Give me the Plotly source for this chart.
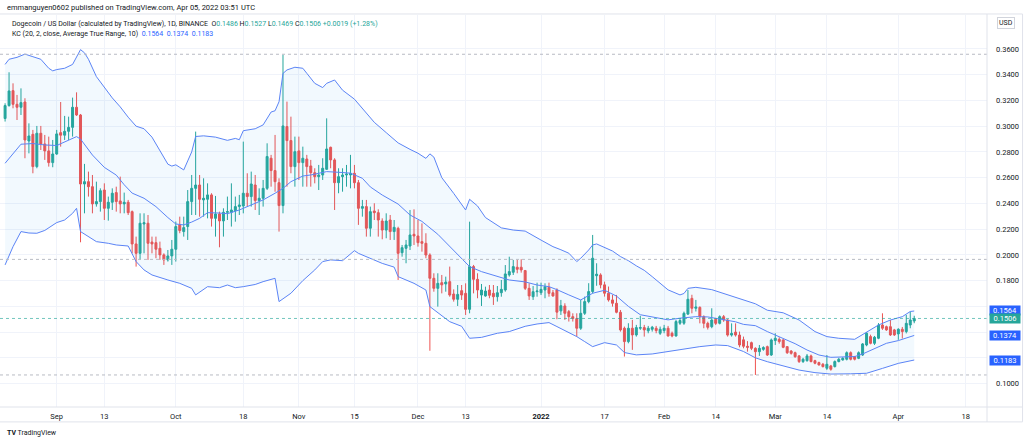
import pandas as pd
import plotly.graph_objects as go

# ---------------- data ----------------
dates = pd.date_range("2021-08-19", periods=230, freq="D")

opens = [
    0.3060, 0.3160, 0.3276, 0.3170, 0.3147, 0.3188, 0.2885, 0.2937, 0.2686, 0.2945,
    0.2862, 0.2808, 0.2717, 0.2784, 0.2950, 0.2930, 0.2960, 0.2991, 0.3147, 0.3087,
    0.2551, 0.2569, 0.2530, 0.2396, 0.2414, 0.2504, 0.2362, 0.2409, 0.2484, 0.2419,
    0.2396, 0.2409, 0.2336, 0.2085, 0.2012, 0.2240, 0.2246, 0.2100, 0.2095, 0.2051,
    0.2000, 0.1961, 0.1992, 0.2044, 0.2233, 0.2181, 0.2220, 0.2414, 0.2517, 0.2543,
    0.2427, 0.2432, 0.2466, 0.2284, 0.2318, 0.2264, 0.2331, 0.2331, 0.2344, 0.2375,
    0.2380, 0.2479, 0.2453, 0.2543, 0.2422, 0.2440, 0.2517, 0.2751, 0.2655, 0.2561,
    0.2383, 0.2997, 0.2888, 0.2686, 0.2808, 0.2717, 0.2745, 0.2691, 0.2639, 0.2608,
    0.2621, 0.2665, 0.2836, 0.2738, 0.2561, 0.2608, 0.2621, 0.2621, 0.2634, 0.2561,
    0.2362, 0.2375, 0.2207, 0.2341, 0.2328, 0.2263, 0.2193, 0.2271, 0.2181, 0.2206,
    0.2017, 0.2051, 0.2069, 0.2160, 0.2147, 0.2103, 0.2090, 0.1999, 0.1818, 0.1740,
    0.1784, 0.1774, 0.1792, 0.1696, 0.1655, 0.1722, 0.1701, 0.1577, 0.1909, 0.1810,
    0.1688, 0.1681, 0.1727, 0.1701, 0.1675, 0.1706, 0.1727, 0.1844, 0.1865, 0.1904,
    0.1904, 0.1878, 0.1740, 0.1675, 0.1714, 0.1706, 0.1727, 0.1748, 0.1706, 0.1727,
    0.1565, 0.1603, 0.1559, 0.1520, 0.1505, 0.1430, 0.1546, 0.1637, 0.1715, 0.1838,
    0.1844, 0.1767, 0.1702, 0.1650, 0.1624, 0.1554, 0.1430, 0.1326, 0.1430, 0.1378,
    0.1430, 0.1435, 0.1410, 0.1422, 0.1430, 0.1391, 0.1412, 0.1430, 0.1391, 0.1370,
    0.1469, 0.1469, 0.1540, 0.1662, 0.1585, 0.1592, 0.1520, 0.1468, 0.1442, 0.1499,
    0.1468, 0.1520, 0.1494, 0.1377, 0.1400, 0.1377, 0.1340, 0.1290, 0.1318, 0.1274,
    0.1248, 0.1266, 0.1287, 0.1222, 0.1334, 0.1344, 0.1339, 0.1287, 0.1253, 0.1240,
    0.1215, 0.1171, 0.1178, 0.1215, 0.1178, 0.1163, 0.1150, 0.1119, 0.1137, 0.1132,
    0.1171, 0.1184, 0.1189, 0.1240, 0.1209, 0.1196, 0.1222, 0.1300, 0.1365, 0.1313,
    0.1352, 0.1455, 0.1442, 0.1442, 0.1417, 0.1386, 0.1422, 0.1404, 0.1455, 0.1486,
]
highs = [
    0.3178, 0.3419, 0.3333, 0.3243, 0.3294, 0.3217, 0.3022, 0.2971, 0.3002, 0.3002,
    0.2932, 0.2919, 0.2893, 0.2971, 0.3188, 0.3080, 0.3074, 0.3222, 0.3263, 0.3095,
    0.2707, 0.2647, 0.2621, 0.2569, 0.2517, 0.2556, 0.2453, 0.2517, 0.2530, 0.2608,
    0.2484, 0.2427, 0.2345, 0.2142, 0.2323, 0.2323, 0.2310, 0.2142, 0.2142, 0.2103,
    0.2012, 0.2038, 0.2116, 0.2259, 0.2297, 0.2297, 0.2504, 0.2621, 0.2958, 0.2621,
    0.2595, 0.2556, 0.2479, 0.2458, 0.2336, 0.2362, 0.2453, 0.2556, 0.2453, 0.2466,
    0.2880, 0.2634, 0.2647, 0.2621, 0.2517, 0.2582, 0.2867, 0.2777, 0.2932, 0.2595,
    0.3555, 0.3191, 0.3074, 0.2919, 0.2919, 0.2841, 0.2777, 0.2738, 0.2673, 0.2699,
    0.2751, 0.3061, 0.2841, 0.2751, 0.2673, 0.2673, 0.2699, 0.2777, 0.2699, 0.2582,
    0.2427, 0.2427, 0.2375, 0.2401, 0.2354, 0.2284, 0.2323, 0.2310, 0.2271, 0.2219,
    0.2077, 0.2116, 0.2349, 0.2354, 0.2271, 0.2245, 0.2168, 0.2012, 0.1857, 0.1857,
    0.1844, 0.1831, 0.1909, 0.1732, 0.1766, 0.1766, 0.1779, 0.2258, 0.1922, 0.1857,
    0.1774, 0.1753, 0.1766, 0.1766, 0.1758, 0.1805, 0.1921, 0.1986, 0.1961, 0.1961,
    0.1966, 0.1883, 0.1779, 0.1758, 0.1784, 0.1784, 0.1779, 0.1784, 0.1727, 0.1740,
    0.1650, 0.1624, 0.1572, 0.1546, 0.1546, 0.1650, 0.1676, 0.1780, 0.2155, 0.1935,
    0.1857, 0.1792, 0.1754, 0.1689, 0.1689, 0.1572, 0.1443, 0.1469, 0.1495, 0.1456,
    0.1526, 0.1456, 0.1448, 0.1448, 0.1448, 0.1443, 0.1456, 0.1448, 0.1404, 0.1495,
    0.1508, 0.1559, 0.1727, 0.1690, 0.1650, 0.1600, 0.1530, 0.1481, 0.1585, 0.1510,
    0.1530, 0.1533, 0.1500, 0.1468, 0.1468, 0.1404, 0.1365, 0.1330, 0.1326, 0.1282,
    0.1300, 0.1290, 0.1295, 0.1350, 0.1391, 0.1360, 0.1345, 0.1290, 0.1260, 0.1248,
    0.1222, 0.1200, 0.1230, 0.1225, 0.1185, 0.1170, 0.1160, 0.1222, 0.1145, 0.1180,
    0.1200, 0.1205, 0.1250, 0.1250, 0.1215, 0.1250, 0.1315, 0.1400, 0.1380, 0.1370,
    0.1470, 0.1546, 0.1450, 0.1494, 0.1425, 0.1430, 0.1440, 0.1533, 0.1559, 0.1527,
]
lows = [
    0.3036, 0.3152, 0.3139, 0.3048, 0.3087, 0.2751, 0.2789, 0.2634, 0.2673, 0.2815,
    0.2738, 0.2686, 0.2681, 0.2777, 0.2841, 0.2893, 0.2893, 0.2919, 0.3080, 0.2098,
    0.2323, 0.2453, 0.2323, 0.2375, 0.2336, 0.2271, 0.2266, 0.2349, 0.2336, 0.2323,
    0.2323, 0.2310, 0.2012, 0.1909, 0.1961, 0.2012, 0.1961, 0.2012, 0.1974, 0.1961,
    0.1922, 0.1948, 0.1922, 0.1948, 0.2168, 0.2142, 0.2116, 0.2310, 0.2310, 0.2297,
    0.2297, 0.2284, 0.2220, 0.2142, 0.2059, 0.2142, 0.2271, 0.2220, 0.2258, 0.2310,
    0.2323, 0.2375, 0.2375, 0.2349, 0.2310, 0.2375, 0.2504, 0.2530, 0.2491, 0.2181,
    0.2323, 0.2530, 0.2634, 0.2530, 0.2582, 0.2530, 0.2530, 0.2530, 0.2556, 0.2504,
    0.2582, 0.2660, 0.2673, 0.2349, 0.2479, 0.2491, 0.2530, 0.2517, 0.2517, 0.2233,
    0.2297, 0.2142, 0.2142, 0.2271, 0.2142, 0.2121, 0.2129, 0.2116, 0.2116, 0.1805,
    0.1986, 0.1935, 0.2038, 0.2077, 0.2064, 0.2025, 0.1974, 0.1255, 0.1714, 0.1598,
    0.1701, 0.1714, 0.1675, 0.1637, 0.1603, 0.1650, 0.1533, 0.1546, 0.1701, 0.1663,
    0.1603, 0.1675, 0.1663, 0.1611, 0.1637, 0.1675, 0.1714, 0.1831, 0.1844, 0.1857,
    0.1862, 0.1727, 0.1650, 0.1650, 0.1675, 0.1688, 0.1663, 0.1675, 0.1675, 0.1500,
    0.1533, 0.1495, 0.1482, 0.1482, 0.1365, 0.1417, 0.1533, 0.1624, 0.1700, 0.1760,
    0.1740, 0.1676, 0.1637, 0.1598, 0.1546, 0.1404, 0.1210, 0.1313, 0.1262, 0.1365,
    0.1417, 0.1365, 0.1391, 0.1404, 0.1391, 0.1378, 0.1391, 0.1365, 0.1360, 0.1365,
    0.1456, 0.1456, 0.1533, 0.1546, 0.1560, 0.1468, 0.1430, 0.1420, 0.1430, 0.1455,
    0.1460, 0.1480, 0.1365, 0.1365, 0.1365, 0.1282, 0.1274, 0.1248, 0.1260, 0.1067,
    0.1215, 0.1255, 0.1215, 0.1215, 0.1300, 0.1310, 0.1275, 0.1230, 0.1225, 0.1200,
    0.1160, 0.1160, 0.1170, 0.1165, 0.1150, 0.1140, 0.1125, 0.1106, 0.1100, 0.1125,
    0.1165, 0.1178, 0.1180, 0.1180, 0.1180, 0.1190, 0.1215, 0.1290, 0.1305, 0.1300,
    0.1345, 0.1417, 0.1410, 0.1370, 0.1370, 0.1340, 0.1350, 0.1390, 0.1430, 0.1469,
]
closes = [
    0.3160, 0.3274, 0.3170, 0.3147, 0.3183, 0.2893, 0.2924, 0.2686, 0.2945, 0.2862,
    0.2808, 0.2717, 0.2784, 0.2940, 0.2930, 0.2960, 0.2991, 0.3147, 0.3087, 0.2551,
    0.2569, 0.2530, 0.2396, 0.2414, 0.2499, 0.2362, 0.2409, 0.2479, 0.2414, 0.2396,
    0.2409, 0.2328, 0.2085, 0.2012, 0.2246, 0.2250, 0.2090, 0.2085, 0.2044, 0.2000,
    0.1961, 0.1992, 0.2044, 0.2220, 0.2189, 0.2212, 0.2414, 0.2517, 0.2543, 0.2432,
    0.2440, 0.2466, 0.2284, 0.2318, 0.2264, 0.2331, 0.2336, 0.2349, 0.2375, 0.2388,
    0.2479, 0.2453, 0.2551, 0.2422, 0.2440, 0.2517, 0.2764, 0.2655, 0.2569, 0.2383,
    0.3002, 0.2888, 0.2686, 0.2802, 0.2717, 0.2751, 0.2686, 0.2639, 0.2608, 0.2621,
    0.2673, 0.2823, 0.2738, 0.2561, 0.2608, 0.2621, 0.2628, 0.2634, 0.2561, 0.2362,
    0.2375, 0.2207, 0.2336, 0.2328, 0.2271, 0.2193, 0.2263, 0.2181, 0.2214, 0.2012,
    0.2056, 0.2077, 0.2155, 0.2147, 0.2095, 0.2090, 0.1999, 0.1818, 0.1740, 0.1779,
    0.1767, 0.1789, 0.1688, 0.1655, 0.1693, 0.1688, 0.1577, 0.1909, 0.1810, 0.1727,
    0.1727, 0.1719, 0.1686, 0.1675, 0.1706, 0.1732, 0.1852, 0.1870, 0.1909, 0.1888,
    0.1883, 0.1740, 0.1681, 0.1714, 0.1719, 0.1732, 0.1753, 0.1701, 0.1681, 0.1555,
    0.1605, 0.1546, 0.1520, 0.1505, 0.1430, 0.1546, 0.1637, 0.1715, 0.1974, 0.1850,
    0.1767, 0.1702, 0.1650, 0.1624, 0.1554, 0.1417, 0.1326, 0.1430, 0.1378, 0.1435,
    0.1435, 0.1417, 0.1430, 0.1438, 0.1412, 0.1422, 0.1430, 0.1370, 0.1370, 0.1482,
    0.1490, 0.1546, 0.1655, 0.1585, 0.1595, 0.1520, 0.1468, 0.1437, 0.1494, 0.1468,
    0.1520, 0.1494, 0.1377, 0.1390, 0.1377, 0.1300, 0.1290, 0.1282, 0.1274, 0.1248,
    0.1274, 0.1280, 0.1222, 0.1339, 0.1352, 0.1326, 0.1282, 0.1240, 0.1235, 0.1209,
    0.1171, 0.1189, 0.1215, 0.1171, 0.1158, 0.1145, 0.1132, 0.1150, 0.1111, 0.1171,
    0.1189, 0.1196, 0.1240, 0.1189, 0.1189, 0.1240, 0.1308, 0.1391, 0.1313, 0.1360,
    0.1455, 0.1430, 0.1417, 0.1378, 0.1378, 0.1422, 0.1404, 0.1468, 0.1494, 0.1506,
]

# Keltner channel samples: candle index -> band value
kc_upper_idx = [0, 1, 3, 5, 7, 9, 11, 12, 13, 15, 17, 18, 19, 20, 21, 23, 25, 27, 29, 31,
                33, 35, 37, 39, 41, 42, 43, 44, 45, 46, 47, 48, 50, 53, 56, 58, 59, 60, 63, 65,
                66, 67, 68, 69, 70, 71, 73, 75, 76, 78, 80, 81, 83, 85, 88, 91, 93, 96, 99, 102,
                104, 106, 107, 108, 110, 113, 116, 117, 119, 121, 125, 128, 131, 135, 138, 140, 142, 144, 145, 147,
                148, 149, 151, 153, 155, 157, 159, 161, 163, 165, 167, 170, 171, 172, 174, 178, 182, 186, 189, 192,
                196, 200, 204, 207, 210, 214, 217, 220, 223, 226, 228, 229]
kc_upper = [0.3480, 0.3520, 0.3535, 0.3560, 0.3540, 0.3520, 0.3450, 0.3430, 0.3440, 0.3450,
            0.3480, 0.3540, 0.3595, 0.3570, 0.3520, 0.3385, 0.3300, 0.3220, 0.3150, 0.3070,
            0.3000, 0.2980, 0.2915, 0.2815, 0.2705, 0.2690, 0.2700, 0.2680, 0.2660, 0.2730,
            0.2800, 0.2920, 0.2925, 0.2915, 0.2890, 0.2905, 0.2895, 0.2965, 0.2980, 0.3010,
            0.3060, 0.3110, 0.3120, 0.3190, 0.3410, 0.3437, 0.3458, 0.3450, 0.3411, 0.3333,
            0.3300, 0.3333, 0.3359, 0.3280, 0.3210, 0.3100, 0.3030, 0.2950, 0.2870, 0.2820,
            0.2790, 0.2750, 0.2785, 0.2760, 0.2600, 0.2478, 0.2349, 0.2432, 0.2380, 0.2290,
            0.2210, 0.2193, 0.2185, 0.2115, 0.2064, 0.2040, 0.2013, 0.1948, 0.1974, 0.2038,
            0.2077, 0.2085, 0.2060, 0.2030, 0.1987, 0.1955, 0.1915, 0.1880, 0.1831, 0.1780,
            0.1728, 0.1689, 0.1700, 0.1740, 0.1748, 0.1730, 0.1689, 0.1650, 0.1620, 0.1570,
            0.1550, 0.1494, 0.1404, 0.1365, 0.1352, 0.1344, 0.1400, 0.1455, 0.1494, 0.1520,
            0.1560, 0.1564]

kc_mid_idx = [0, 2, 4, 7, 10, 13, 15, 18, 19, 20, 22, 25, 28, 30, 32, 35, 38, 41, 43, 45,
              47, 49, 51, 54, 56, 59, 62, 65, 68, 70, 72, 75, 77, 81, 85, 87, 90, 92, 95, 99,
              102, 105, 109, 112, 115, 117, 120, 124, 127, 131, 134, 137, 139, 142, 145, 148, 151, 154, 157, 160,
              164, 167, 170, 174, 177, 181, 184, 186, 189, 192, 195, 199, 202, 205, 208, 211, 214, 216, 219, 222,
              225, 229]
kc_mid = [0.2712, 0.2790, 0.2860, 0.2865, 0.2854, 0.2850, 0.2880, 0.2919, 0.2900, 0.2860,
          0.2776, 0.2680, 0.2620, 0.2545, 0.2480, 0.2440, 0.2375, 0.2290, 0.2240, 0.2233,
          0.2255, 0.2284, 0.2328, 0.2325, 0.2320, 0.2349, 0.2388, 0.2427, 0.2479, 0.2517,
          0.2569, 0.2613, 0.2621, 0.2647, 0.2640, 0.2635, 0.2595, 0.2528, 0.2465, 0.2395,
          0.2310, 0.2260, 0.2160, 0.2064, 0.1975, 0.1909, 0.1870, 0.1830, 0.1805, 0.1790,
          0.1766, 0.1753, 0.1730, 0.1689, 0.1650, 0.1702, 0.1725, 0.1680, 0.1600, 0.1535,
          0.1513, 0.1495, 0.1508, 0.1520, 0.1518, 0.1495, 0.1480, 0.1460, 0.1450, 0.1404,
          0.1365, 0.1310, 0.1261, 0.1222, 0.1204, 0.1208, 0.1210, 0.1230, 0.1274, 0.1313,
          0.1334, 0.1374]

kc_lower_idx = [0, 2, 4, 6, 8, 10, 13, 15, 17, 18, 19, 21, 23, 26, 28, 31, 33, 35, 37, 41,
                44, 47, 48, 51, 54, 56, 58, 60, 63, 65, 68, 69, 72, 75, 78, 80, 82, 85, 88, 89,
                92, 95, 98, 99, 103, 106, 107, 110, 112, 115, 117, 120, 124, 127, 131, 134, 137, 139, 142, 144,
                146, 148, 151, 154, 156, 159, 163, 167, 171, 175, 179, 182, 186, 189, 192, 197, 200, 204, 208, 213,
                217, 221, 225, 229]
kc_lower = [0.1922, 0.2064, 0.2181, 0.2170, 0.2168, 0.2190, 0.2251, 0.2271, 0.2323, 0.2362,
            0.2181, 0.2142, 0.2103, 0.2090, 0.2077, 0.2069, 0.1948, 0.1883, 0.1844, 0.1805,
            0.1779, 0.1740, 0.1689, 0.1753, 0.1745, 0.1766, 0.1745, 0.1753, 0.1770, 0.1792,
            0.1818, 0.1637, 0.1702, 0.1800, 0.1883, 0.1948, 0.1961, 0.1955, 0.2033, 0.2012,
            0.1970, 0.1934, 0.1905, 0.1831, 0.1779, 0.1727, 0.1598, 0.1530, 0.1481, 0.1445,
            0.1352, 0.1359, 0.1391, 0.1404, 0.1445, 0.1463, 0.1474, 0.1443, 0.1395, 0.1365,
            0.1326, 0.1287, 0.1318, 0.1300, 0.1241, 0.1223, 0.1230, 0.1249, 0.1265, 0.1287,
            0.1300, 0.1295, 0.1249, 0.1200, 0.1170, 0.1131, 0.1105, 0.1085, 0.1074, 0.1076,
            0.1080, 0.1118, 0.1157, 0.1183]

hlines_gray = [0.3559, 0.1965, 0.1067]
last_price = 0.1506
kc_last = {"upper": 0.1564, "basis": 0.1374, "lower": 0.1183}

x_tick_dates = ["2021-09-01", "2021-09-13", "2021-10-01", "2021-10-18", "2021-11-01", "2021-11-15",
                "2021-12-01", "2021-12-13", "2022-01-01", "2022-01-17", "2022-02-01", "2022-02-14",
                "2022-03-01", "2022-03-14", "2022-04-01", "2022-04-18"]
x_tick_text = ["Sep", "13", "Oct", "18", "Nov", "15", "Dec", "13", "<b>2022</b>", "17", "Feb", "14",
               "Mar", "14", "Apr", "18"]
y_tick_vals = [0.10, 0.12, 0.14, 0.16, 0.18, 0.20, 0.22, 0.24, 0.26, 0.28, 0.30, 0.32, 0.34, 0.36]
# labels at 0.12 / 0.14 / 0.16 sit under the value boxes on the price scale
y_tick_text = ["0.1000", "", "", "", "0.1800", "0.2000", "0.2200", "0.2400", "0.2600", "0.2800",
               "0.3000", "0.3200", "0.3400", "0.3600"]

# ---------------- figure ----------------
GREEN = "#26a69a"
RED = "#ef5350"
BLUE = "#2962ff"
BAND = "#5b84f6"
TXT = "#131722"
GRID = "#f0f3fa"
FONT = "Roboto"

up_x = [dates[i] for i in kc_upper_idx]
lo_x = [dates[i] for i in kc_lower_idx]
mid_x = [dates[i] for i in kc_mid_idx]

fig = go.Figure()
fig.add_trace(go.Scatter(
    x=up_x + lo_x[::-1], y=kc_upper + kc_lower[::-1], fill="toself",
    fillcolor="rgba(33,150,243,0.06)", line=dict(width=0), mode="lines",
    hoverinfo="skip", showlegend=False))
for xs, ys in [(up_x, kc_upper), (mid_x, kc_mid), (lo_x, kc_lower)]:
    fig.add_trace(go.Scatter(x=xs, y=ys, mode="lines", line=dict(color=BAND, width=1),
                             hoverinfo="skip", showlegend=False))

fig.add_trace(go.Candlestick(
    x=dates, open=opens, high=highs, low=lows, close=closes,
    increasing=dict(line=dict(color=GREEN, width=1), fillcolor=GREEN),
    decreasing=dict(line=dict(color=RED, width=1), fillcolor=RED),
    whiskerwidth=0, showlegend=False, hoverinfo="skip"))

shapes = []
for p in hlines_gray:
    shapes.append(dict(type="line", xref="paper", yref="y", x0=0, x1=1, y0=p, y1=p,
                       line=dict(color="#b8bbc3", width=1, dash="dot")))
shapes.append(dict(type="line", xref="paper", yref="y", x0=0, x1=1, y0=last_price, y1=last_price,
                   line=dict(color="rgba(38,166,154,0.65)", width=1, dash="dot")))
# frame
frame = "#e0e3eb"
shapes += [
    dict(type="line", xref="paper", yref="paper", x0=0, x1=1.036, y0=1.0026, y1=1.0026, line=dict(color=frame, width=1)),
    dict(type="line", xref="paper", yref="paper", x0=0, x1=1.036, y0=-0.038, y1=-0.038, line=dict(color=frame, width=1)),
    dict(type="line", xref="paper", yref="paper", x0=0, x1=1.036, y0=0, y1=0, line=dict(color=frame, width=1)),
    dict(type="line", xref="paper", yref="paper", x0=1, x1=1, y0=-0.038, y1=1.0026, line=dict(color=frame, width=1)),
    dict(type="line", xref="paper", yref="paper", x0=1.036, x1=1.036, y0=-0.038, y1=1.0026, line=dict(color=frame, width=1)),
]

g = lambda s: f'<span style="color:{GREEN}">{s}</span>'
b = lambda s: f'<span style="color:{BLUE}">{s}</span>'
nb = "\u00a0"
line1 = ("Dogecoin / US Dollar (calculated by TradingView), 1D, BINANCE" + nb * 2 +
         "O" + g("0.1486") + nb + "H" + g("0.1527") + nb + "L" + g("0.1469") + nb +
         "C" + g("0.1506") + nb + g("+0.0019 (+1.28%)"))
line2 = ("KC (20, 2, close, Average True Range, 10)" + nb * 2 + b(f"{kc_last['upper']:.4f}") + nb * 2 +
         b(f"{kc_last['basis']:.4f}") + nb * 2 + b(f"{kc_last['lower']:.4f}"))

annotations = [
    dict(xref="paper", yref="paper", x=0.005, y=1.018, xanchor="left", yanchor="middle", showarrow=False,
         text="emmanguyen0602 published on TradingView.com, Apr 05, 2022 03:51 UTC",
         font=dict(family=FONT, size=7.5, color=TXT)),
    dict(xref="paper", yref="paper", x=0.0101, y=0.977, xanchor="left", yanchor="middle", showarrow=False,
         text=line1, font=dict(family=FONT, size=7, color=TXT)),
    dict(xref="paper", yref="paper", x=0.0101, y=0.952, xanchor="left", yanchor="middle", showarrow=False,
         text=line2, font=dict(family=FONT, size=7, color=TXT)),
    dict(xref="paper", yref="paper", x=0.005, y=-0.066, xanchor="left", yanchor="middle", showarrow=False,
         text="<b>TV</b> TradingView", font=dict(family=FONT, size=7, color=TXT)),
    dict(xref="paper", yref="paper", x=1.019, y=0.98, xanchor="center", yanchor="middle", showarrow=False,
         text="USD", font=dict(family=FONT, size=7, color=TXT), bgcolor="white",
         bordercolor="#d1d4dc", borderwidth=1, borderpad=1),
]
for val, col in [(kc_last["upper"], BLUE), (last_price, GREEN), (kc_last["basis"], BLUE), (kc_last["lower"], BLUE)]:
    annotations.append(dict(xref="paper", yref="y", x=1, y=val, xanchor="left", yanchor="middle",
                            xshift=2, showarrow=False, text=f"{val:.4f}", width=30, height=9,
                            font=dict(family=FONT, size=7.5, color="white"), bgcolor=col, borderpad=0))

fig.update_layout(
    width=1024, height=442,
    margin=dict(l=0, r=37, t=15, b=35),
    paper_bgcolor="white", plot_bgcolor="white",
    shapes=shapes, annotations=annotations,
    showlegend=False,
    xaxis=dict(type="date", range=["2021-08-17 17:15", "2022-04-23 08:00"],
               rangeslider=dict(visible=False), tickvals=x_tick_dates, ticktext=x_tick_text,
               showgrid=True, gridcolor=GRID, gridwidth=1, zeroline=False, showline=False,
               ticks="", tickfont=dict(family=FONT, size=7.5, color=TXT), ticklabelstandoff=3),
    yaxis=dict(range=[0.0818, 0.3864], side="right", tickvals=y_tick_vals, ticktext=y_tick_text,
               showgrid=True, gridcolor=GRID, gridwidth=1, zeroline=False, showline=False,
               ticks="", tickfont=dict(family=FONT, size=7.5, color=TXT), ticklabelstandoff=8),
)

fig.write_html("out.html")
